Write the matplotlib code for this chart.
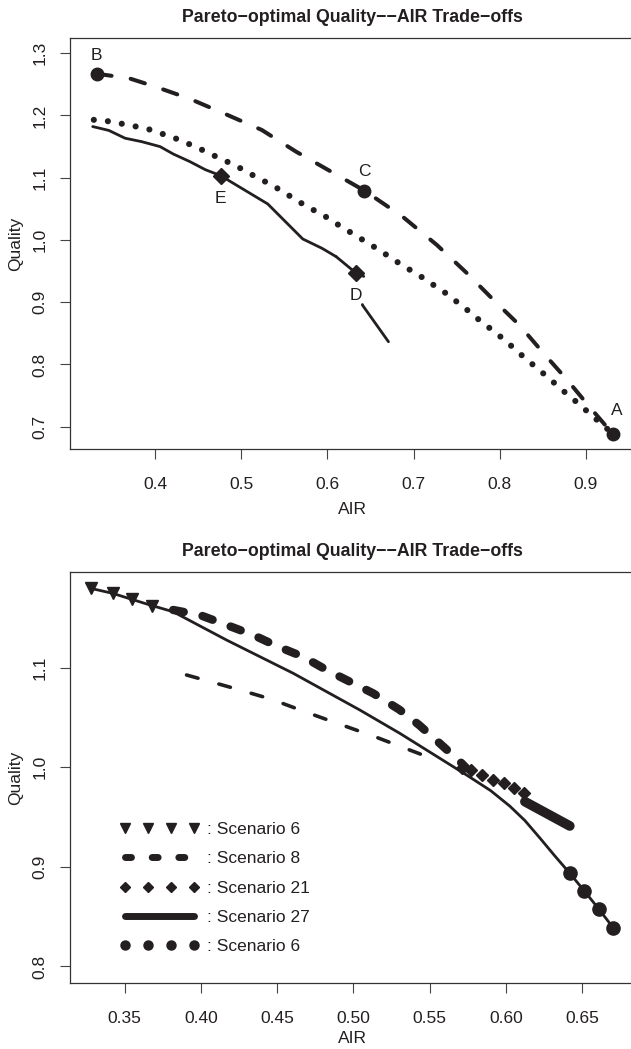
import matplotlib
matplotlib.use("Agg")
import matplotlib.pyplot as plt
from matplotlib.lines import Line2D

plt.rcParams['font.family'] = ['Liberation Sans', 'DejaVu Sans']

INK = '#231f20'

# -----------------------
# top panel data (AIR, Quality)
# -----------------------
dash_air = [0.332, 0.369, 0.3995, 0.4393, 0.4791, 0.5236, 0.5634, 0.6008, 0.6429,
            0.6873, 0.7271, 0.7622, 0.795, 0.823, 0.8512, 0.8787, 0.9044, 0.9321]
dash_q = [1.267, 1.260, 1.2465, 1.2272, 1.2037, 1.1768, 1.142, 1.1125, 1.0793,
          1.0375, 0.992, 0.9465, 0.9008, 0.8633, 0.8178, 0.7749, 0.732, 0.6876]

dot_air = [0.3285, 0.344, 0.360, 0.375, 0.392, 0.407, 0.422, 0.436, 0.451, 0.466,
           0.480, 0.494, 0.508, 0.523, 0.537, 0.550, 0.564, 0.578, 0.593, 0.606,
           0.620, 0.633, 0.647, 0.660, 0.672, 0.684, 0.697, 0.710, 0.724, 0.737,
           0.750, 0.762, 0.774, 0.787, 0.799, 0.811, 0.823, 0.835, 0.847, 0.859,
           0.871, 0.884, 0.896, 0.907, 0.920, 0.9321]
dot_q = [1.193, 1.191, 1.187, 1.183, 1.178, 1.171, 1.164, 1.156, 1.147, 1.137,
         1.128, 1.119, 1.108, 1.097, 1.087, 1.076, 1.064, 1.052, 1.042, 1.030,
         1.018, 1.007, 0.995, 0.984, 0.973, 0.962, 0.951, 0.940, 0.927, 0.915,
         0.901, 0.888, 0.874, 0.860, 0.847, 0.833, 0.818, 0.804, 0.790, 0.776,
         0.761, 0.746, 0.732, 0.718, 0.703, 0.6876]

solid_air = [0.3272, 0.346, 0.3648, 0.384, 0.4055, 0.421, 0.44, 0.458, 0.4758,
             0.5306, 0.5713, 0.5937, 0.6101]
solid_q = [1.1822, 1.176, 1.1635, 1.158, 1.150, 1.138, 1.126, 1.113, 1.1034,
           1.0579, 1.0016, 0.9866, 0.9732]

tail_air = [0.6101, 0.6326, 0.6429, 0.6406, 0.6709]
tail_q = [0.9732, 0.9475, 0.941, 0.8955, 0.8365]

circ_air = [0.9321, 0.332, 0.6429]
circ_q = [0.6876, 1.267, 1.0793]
circ_lab = ['A', 'B', 'C']
circ_dx = [4, 0, 0]
circ_dy = [24, 18, 19]

diam_air = [0.6326, 0.4758]
diam_q = [0.9475, 1.1034]
diam_lab = ['D', 'E']

# -----------------------
# bottom panel data
# -----------------------
s6_tri_air = [0.3277, 0.3421, 0.3546, 0.3677]
s6_tri_q = [1.1797, 1.1747, 1.1687, 1.162]

s8_air = [0.3818, 0.3993, 0.4168, 0.4343, 0.4507, 0.467, 0.4824, 0.4976, 0.5129,
          0.530, 0.543, 0.5566, 0.5703, 0.5741]
s8_q = [1.158, 1.1529, 1.1429, 1.1328, 1.1211, 1.111, 1.0977, 1.086, 1.0743,
        1.058, 1.0425, 1.024, 1.005, 0.999]

s21_air = [0.5713, 0.5773, 0.5845, 0.5918, 0.5989, 0.6055, 0.6116]
s21_q = [0.9993, 0.9969, 0.9925, 0.9874, 0.984, 0.9789, 0.9738]

s27_air = [0.6124, 0.6418]
s27_q = [0.9655, 0.9411]

s6_dot_air = [0.6418, 0.6512, 0.6608, 0.6702]
s6_dot_q = [0.8936, 0.8761, 0.8577, 0.839]

fit_air = [0.3277, 0.3421, 0.3546, 0.3666, 0.3818, 0.4168, 0.4605, 0.5042, 0.5304,
           0.5741, 0.590, 0.6025, 0.6124, 0.6222, 0.632, 0.6418, 0.6512, 0.6608, 0.6702]
fit_q = [1.1797, 1.1747, 1.1687, 1.163, 1.1562, 1.1278, 1.0944, 1.0575, 1.0341,
         0.9923, 0.9765, 0.961, 0.9465, 0.929, 0.911, 0.8936, 0.8761, 0.8577, 0.839]

thin_air = [0.3906, 0.4234, 0.4463, 0.4682, 0.4911, 0.5129, 0.557]
thin_q = [1.0927, 1.0786, 1.0683, 1.0558, 1.0432, 1.0314, 1.0056]

legend_labels = [': Scenario 6', ': Scenario 8', ': Scenario 21', ': Scenario 27', ': Scenario 6']

TITLE = 'Pareto\u2212optimal Quality\u2212\u2212AIR Trade\u2212offs'

W, H = 631, 1049
fig = plt.figure(figsize=(W / 100, H / 100), dpi=100)


def frame(ax, xt, xtl, yt, ytl, xlab_off, ax_h):
    for s in ax.spines.values():
        s.set_linewidth(0.9)
        s.set_color('#333333')
    ax.set_xticks(xt)
    ax.set_xticklabels(xtl)
    ax.set_yticks(yt)
    ax.set_yticklabels(ytl, rotation=90, va='center')
    ax.tick_params(direction='out', length=7.2, width=0.8, color='#444444',
                   labelsize=12.5, labelcolor=INK)
    ax.tick_params(axis='x', pad=12.5)
    ax.tick_params(axis='y', pad=9)
    ax.set_title(TITLE, fontsize=12.8, fontweight='bold', color=INK, pad=12)
    ax.set_xlabel('AIR', fontsize=12.5, color=INK)
    ax.set_ylabel('Quality', fontsize=12.5, color=INK)
    ax.xaxis.set_label_coords(0.5, -xlab_off / ax_h)
    ax.xaxis.label.set_va('center')
    ax.yaxis.set_label_coords(-55 / 564.0, 0.5)
    ax.yaxis.label.set_va('center')


# -----------------------
# top panel
# -----------------------
ax1 = fig.add_axes([70.3 / W, 1 - 449.3 / H, 564.4 / W, 411 / H])
ax1.set_xlim(0.3012, 0.957)
ax1.set_ylim(0.6637, 1.324)

ax1.plot(dash_air, dash_q, color=INK, lw=2.9, dashes=(3.7, 4.8),
         dash_capstyle='round')
ax1.plot(dot_air, dot_q, color=INK, lw=4.4, dashes=(0.01, 2.3),
         dash_capstyle='round')
ax1.plot(solid_air, solid_q, color=INK, lw=2.0, solid_capstyle='round')
ax1.plot(tail_air, tail_q, color=INK, lw=2.0, dashes=(12.3, 10.3, 17, 5),
         dash_capstyle='round')
ax1.plot(circ_air, circ_q, 'o', color=INK, ms=9, mec=INK)
ax1.plot(diam_air, diam_q, 'D', color=INK, ms=8, mec=INK)

for x, y, t, dx, dy in zip(circ_air, circ_q, circ_lab, circ_dx, circ_dy):
    ax1.annotate(t, (x, y), xytext=(dx * 0.72, dy * 0.72), textcoords='offset points',
                 ha='center', va='center', fontsize=12.5, color=INK)
for x, y, t in zip(diam_air, diam_q, diam_lab):
    ax1.annotate(t, (x, y), xytext=(0, -23 * 0.72), textcoords='offset points',
                 ha='center', va='center', fontsize=12.5, color=INK)

frame(ax1, [0.4, 0.5, 0.6, 0.7, 0.8, 0.9], ['0.4', '0.5', '0.6', '0.7', '0.8', '0.9'],
      [0.7, 0.8, 0.9, 1.0, 1.1, 1.2, 1.3], ['0.7', '0.8', '0.9', '1.0', '1.1', '1.2', '1.3'],
      60.7, 411.0)

# -----------------------
# bottom panel
# -----------------------
ax2 = fig.add_axes([70.3 / W, 1 - 983.3 / H, 563.4 / W, 411 / H])
ax2.set_xlim(0.3144, 0.6837)
ax2.set_ylim(0.7831, 1.1958)

ax2.plot(fit_air, fit_q, color=INK, lw=2.0)
ax2.plot(thin_air, thin_q, color=INK, lw=2.6, dashes=(3.3, 6.0),
         dash_capstyle='round')
s8_style = dict(color=INK, lw=6.0, dashes=(1.3, 2.3), dash_capstyle='round')
ax2.plot(s8_air, s8_q, **s8_style)
ax2.plot(s6_tri_air, s6_tri_q, 'v', color=INK, ms=9)
ax2.plot(s21_air, s21_q, 'D', color=INK, ms=6.5)
s27_style = dict(color=INK, lw=7.0, solid_capstyle='round')
ax2.plot(s27_air, s27_q, **s27_style)
ax2.plot(s6_dot_air, s6_dot_q, 'o', color=INK, ms=9.5)

handles = [
    Line2D([], [], ls='None', marker='v', color=INK, ms=7),
    Line2D([], [], **dict(s8_style, lw=5.0, dashes=(0.86, 2.98))),
    Line2D([], [], ls='None', marker='D', color=INK, ms=5.5),
    Line2D([], [], **dict(s27_style, lw=5.0)),
    Line2D([], [], ls='None', marker='o', color=INK, ms=6.5),
]
ax2.legend(handles, legend_labels, loc='upper left', bbox_to_anchor=(0.0886, 0.393),
           frameon=False, numpoints=4, handlelength=4.56, handletextpad=0.43,
           labelspacing=0.82, borderpad=0, borderaxespad=0, fontsize=12.5,
           labelcolor=INK)

frame(ax2, [0.35, 0.40, 0.45, 0.50, 0.55, 0.60, 0.65],
      ['0.35', '0.40', '0.45', '0.50', '0.55', '0.60', '0.65'],
      [0.8, 0.9, 1.0, 1.1], ['0.8', '0.9', '1.0', '1.1'],
      55.0, 411.0)

fig.savefig('out.png', dpi=100)
